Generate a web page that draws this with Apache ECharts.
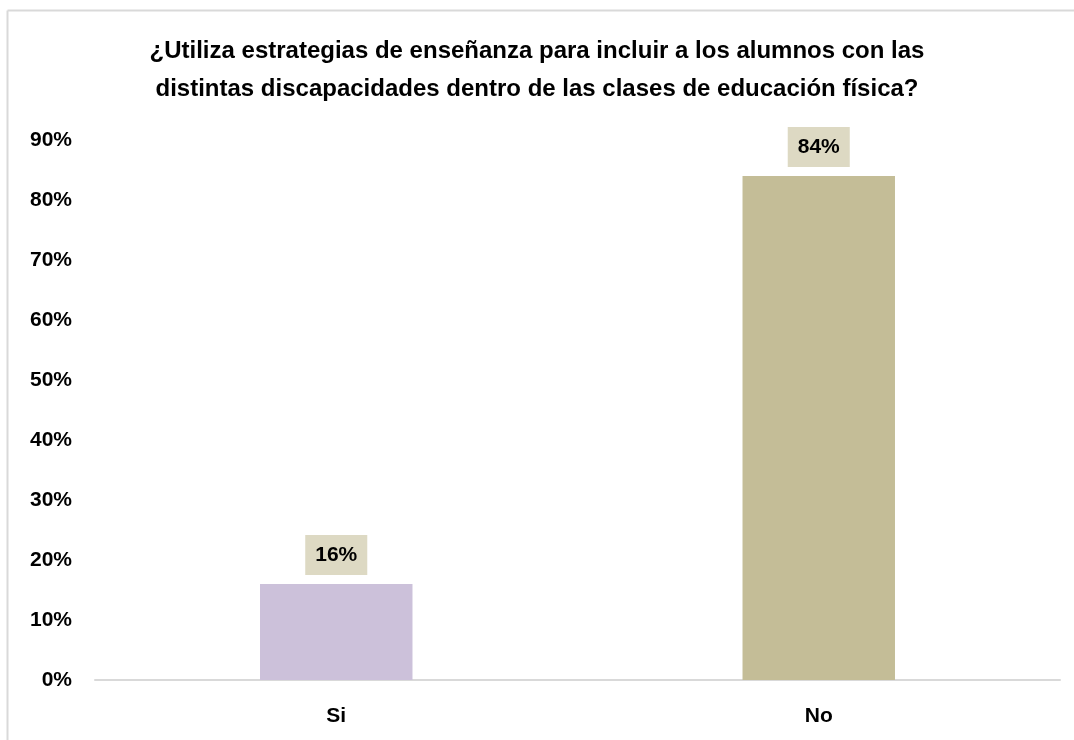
<!DOCTYPE html>
<html>
<head>
<meta charset="utf-8">
<script src="https://cdn.jsdelivr.net/npm/echarts@6/dist/echarts.min.js"></script>
<style>
html,body{margin:0;padding:0;background:#fff;}
#chart{width:1074px;height:740px;}
</style>
</head>
<body>
<div id="chart"></div>
<script>
const titleText = "¿Utiliza estrategias de enseñanza para incluir a los alumnos con las\ndistintas discapacidades dentro de las clases de educación física?";
const categories = ["Si", "No"];
const values = [0.16, 0.84];
const barColors = ["#CCC1DA", "#C4BD97"];
const yTicks = { min: 0, max: 0.9, interval: 0.1 };

const FONT = "'Liberation Sans', Arial, sans-serif";
const chart = echarts.init(document.getElementById('chart'), null, { renderer: 'canvas' });
chart.setOption({
  backgroundColor: '#fff',
  animation: false,
  title: {
    text: titleText,
    left: 'center',
    top: 27,
    textStyle: { fontFamily: FONT, fontWeight: 'bold', fontSize: 24, color: '#000', lineHeight: 38 }
  },
  graphic: [
    { type: 'line', shape: { x1: 7.5, y1: 10.5, x2: 7.5, y2: 740 }, style: { stroke: '#D9D9D9', lineWidth: 2 } },
    { type: 'line', shape: { x1: 7.5, y1: 10.5, x2: 1074, y2: 10.5 }, style: { stroke: '#D9D9D9', lineWidth: 2 } }
  ],
  grid: { left: 95, right: 14, top: 140, bottom: 60, containLabel: false },
  xAxis: {
    type: 'category',
    data: categories,
    axisLine: { show: true, lineStyle: { color: '#D9D9D9', width: 2 } },
    axisTick: { show: false },
    axisLabel: { fontFamily: FONT, fontWeight: 'bold', fontSize: 21, color: '#000', margin: 26 }
  },
  yAxis: {
    type: 'value',
    min: yTicks.min, max: yTicks.max, interval: yTicks.interval,
    splitLine: { show: false },
    axisLine: { show: false },
    axisTick: { show: false },
    axisLabel: {
      fontFamily: FONT, fontWeight: 'bold', fontSize: 21, color: '#000', margin: 23,
      formatter: v => Math.round(v * 100) + '%'
    }
  },
  series: [{
    type: 'bar',
    data: values.map((v, i) => ({ value: v, itemStyle: { color: barColors[i] } })),
    barWidth: '31.6%',
    label: {
      show: true,
      position: 'top',
      distance: 9,
      formatter: p => Math.round(p.value * 100) + '%',
      fontFamily: FONT, fontWeight: 'bold', fontSize: 21, color: '#000',
      backgroundColor: '#DDD9C3',
      padding: [10, 10, 9, 10]
    }
  }]
});
</script>
</body>
</html>
